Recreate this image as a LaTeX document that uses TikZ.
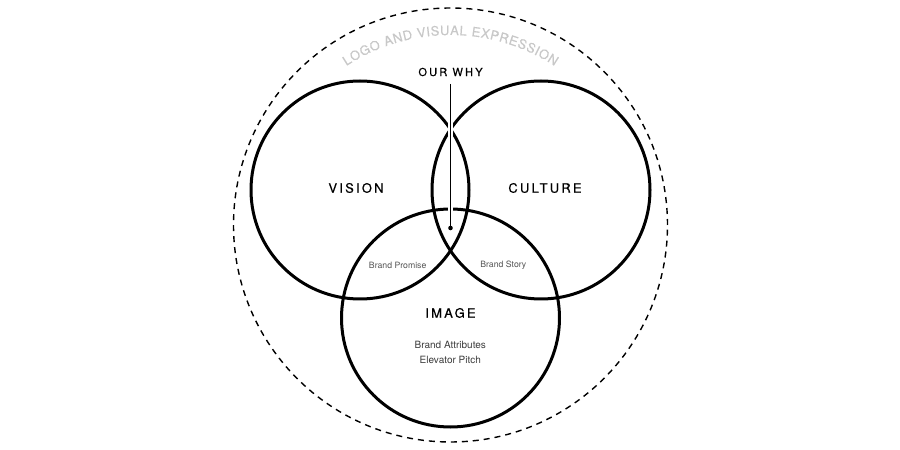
\documentclass[tikz,border=0pt]{standalone}
\usepackage{fontspec}
\setmainfont{TeX Gyre Heros}
\usetikzlibrary{decorations.text}
\newfontfamily\wideface[LetterSpace=17,FakeBold=0.35]{TeX Gyre Heros}
\newfontfamily\whyface[LetterSpace=20,FakeBold=0.35]{TeX Gyre Heros}
\newfontfamily\arcface[FakeBold=0.2]{TeX Gyre Heros}
\definecolor{arcgray}{HTML}{C8C8C8}
\definecolor{smallgray}{HTML}{555555}
\definecolor{midgray}{HTML}{3C3C3C}
\tikzset{
  ring/.style={draw=black, line width=3pt},
  outerring/.style={draw=black, line width=1.4pt, dash pattern=on 6pt off 5pt},
  biglabel/.style={font=\wideface\fontsize{13}{15}\selectfont, text=black, inner sep=0pt},
  whylabel/.style={font=\whyface\fontsize{11}{13}\selectfont, text=black, inner sep=0pt},
  smalllabel/.style={font=\fontsize{8.7}{10}\selectfont, text=smallgray, inner sep=0pt},
  sublabel/.style={font=\fontsize{10}{14.5}\selectfont, text=midgray, inner sep=0pt, align=center},
}
\begin{document}
\begin{tikzpicture}[x=1pt,y=1pt]
\useasboundingbox (0,0) rectangle (900,450);
\fill[white] (0,0) rectangle (900,450);
% outer dashed circle
\draw[outerring] (450.5,225) circle[radius=217];
% curved text
\path[decorate, decoration={text along path, text align=center,
  text={|\arcface\fontsize{13}{14}\selectfont\color{arcgray}|{L\kern0.55pt}{O\kern0.55pt}{G\kern0.55pt}{O\kern0.55pt}{\ \kern0.55pt}{A\kern0.55pt}{N\kern0.55pt}{D\kern0.55pt}{\ \kern0.55pt}{V\kern0.55pt}{I\kern0.55pt}{S\kern0.55pt}{U\kern0.55pt}{A\kern0.55pt}{L\kern0.55pt}{\ \kern0.55pt}{E\kern0.55pt}{X\kern0.55pt}{P\kern0.55pt}{R\kern0.55pt}{E\kern0.55pt}{S\kern0.55pt}{S\kern0.55pt}{I\kern0.55pt}{O\kern0.55pt}{N}}}]
  (450.5,225) ++(124:190) arc[start angle=124, end angle=56, radius=190];
% three circles
\draw[ring] (360,260) circle[radius=109];
\draw[ring] (541,260) circle[radius=109];
\draw[ring] (450.5,132) circle[radius=109];
% labels
\node[whylabel] (why) at (450.5,378) {OUR WHY};
\node[biglabel] (vision) at (356,262) {VISION};
\node[biglabel] (culture) at (545,262) {CULTURE};
\node[biglabel] (image) at (450.5,137) {IMAGE};
\node[smalllabel] (promise) at (397.7,185) {Brand Promise};
\node[smalllabel] (story) at (503.3,185) {Brand Story};
\node[sublabel] (attr) at (450.3,97.5) {Brand Attributes\\Elevator Pitch};
% pointer line
\coordinate (top) at (450.5,366);
\coordinate (dot) at (450.5,222);
\draw[white, line width=5pt] (top) -- (dot);
\draw[black, line width=1pt] (top) -- (dot);
\fill[black] (dot) circle[radius=2.3];
\end{tikzpicture}
\end{document}
